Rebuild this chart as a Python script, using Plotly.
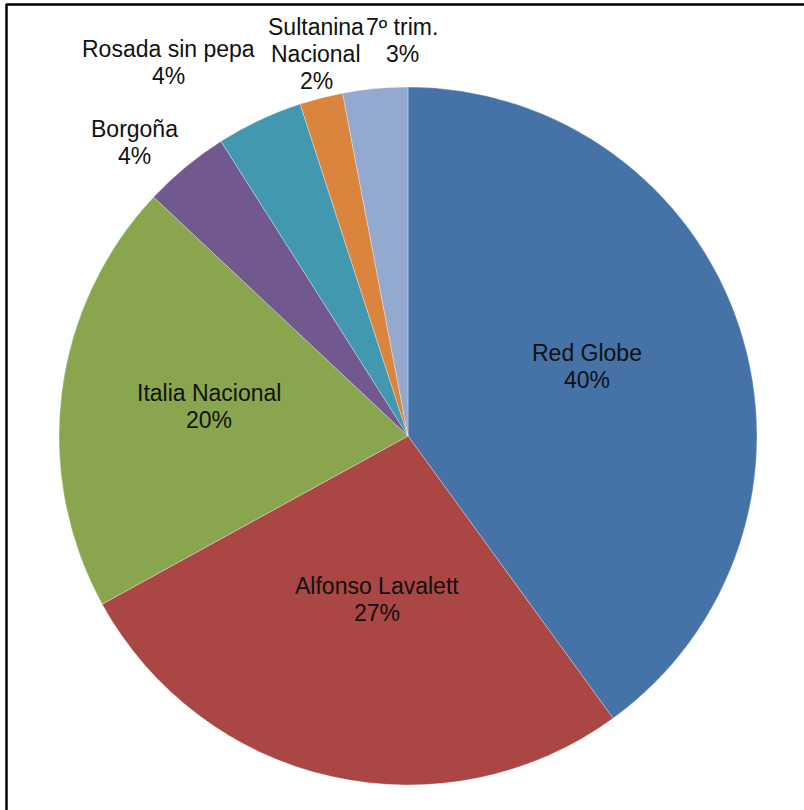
import plotly.graph_objects as go

labels = ["Red Globe", "Alfonso Lavalett", "Italia Nacional", "Borgoña",
          "Rosada sin pepa", "Sultanina<br>Nacional", "7º trim."]
values = [40, 27, 20, 4, 4, 2, 3]
colors = ["#4572A7", "#AA4643", "#89A54E", "#71588F", "#4198AF", "#DB843D", "#93A9CF"]

W, H = 804, 810
cx, cy, R = 408, 436, 349

fig = go.Figure(go.Pie(
    labels=labels,
    values=values,
    textinfo="none",
    sort=False,
    direction="clockwise",
    rotation=0,
    marker=dict(colors=colors, line=dict(color="rgba(255,255,255,0.5)", width=0.6)),
    hoverinfo="label+percent",
    showlegend=False,
    domain=dict(x=[(cx - R) / W, (cx + R) / W], y=[1 - (cy + R) / H, 1 - (cy - R) / H]),
))

# label centres (x, y of first line) in pixels, line spacing in pixels
label_pos = {0: (587, 353), 1: (377, 586), 2: (209, 393), 3: (134.5, 129),
             4: (168, 49), 5: (316, 27), 6: (402, 27)}
LINE = 27
total = sum(values)
annotations = []
for i, (px, py) in label_pos.items():
    lines = labels[i].split("<br>") + [f"{round(100 * values[i] / total)}%"]
    for k, ln in enumerate(lines):
        annotations.append(dict(
            x=px / W, y=1 - (py + k * LINE) / H, xref="paper", yref="paper",
            text=ln, showarrow=False, xanchor="center", yanchor="middle",
            font=dict(family="Liberation Sans, Arial", size=23, color="#111111"),
        ))

shapes = [
    dict(type="line", xref="paper", yref="paper", x0=6 / W, x1=1, y0=1 - 4.5 / H, y1=1 - 4.5 / H,
         line=dict(color="#000000", width=2.5)),
    dict(type="line", xref="paper", yref="paper", x0=6.5 / W, x1=6.5 / W, y0=0, y1=1 - 4 / H,
         line=dict(color="#000000", width=2.5)),
]

fig.update_layout(
    width=W, height=H,
    margin=dict(l=0, r=0, t=0, b=0),
    paper_bgcolor="white", plot_bgcolor="white",
    annotations=annotations, shapes=shapes,
)

fig.write_html("out.html")
